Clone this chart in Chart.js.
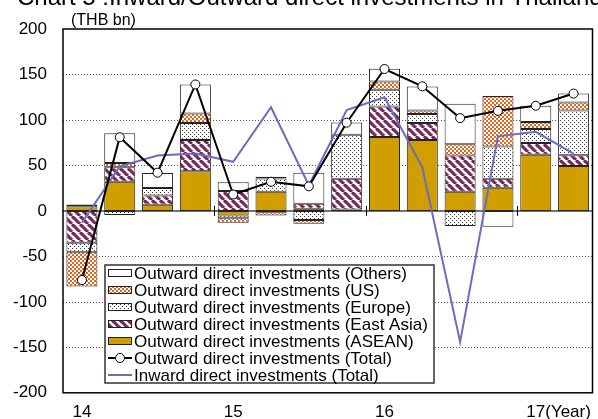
<!DOCTYPE html>
<html>
<head>
<meta charset="utf-8">
<script src="https://cdn.jsdelivr.net/npm/chart.js@4"></script>
<style>
  html, body { margin: 0; padding: 0; background: #fff; }
  #wrap { width: 598px; height: 419px; }
</style>
</head>
<body>
<div id="wrap"><canvas id="fdiChart" width="598" height="419"></canvas></div>
<script>
// quarters 2014Q1 .. 2017Q2, tick label only on Q1
const quarterLabels = ['14', '', '', '', '15', '', '', '', '16', '', '', '', '17', ''];
const yTicks = [-200, -150, -100, -50, 0, 50, 100, 150, 200];

// outward direct investment by destination (THB bn)
const aseanOut    = [5, 32, 6.8, 43.6, -5, 21, 2.4, 1.6, 81.3, 78, 21, 25.4, 61.6, 49.5];
const eastAsiaOut = [-35, 16, 10, 34.4, 22, -1.5, 5.5, 33.7, 33.5, 18.6, 39.8, 9.9, 13.1, 11.7];
const europeOut   = [-10, -4.5, 8.4, 18.7, -3, 14.5, -10, 48.5, 18.4, 9.9, -16.6, 35.4, 15.3, 49.3];
const usOut       = [-38, 4.8, 0, 10.5, -5, -3.5, -4, 0, 9.1, 4, 12.4, 55.5, 7.7, 8.7];
const othersOut   = [2, 32.5, 16.4, 31.8, 9.6, 2, 34, 13.5, 13.9, 26.3, 44.6, -17.3, 17.9, 9.8];
const totalOut    = [-76, 81, 42, 139, 18, 32, 27, 97, 156, 137, 102, 110, 115.6, 129];
const totalIn     = [-13, 49, 61, 63, 54, 114, 28, 111, 125, 48, -144, 82, 87, 63];

const FONT = '"Liberation Sans", Arial, sans-serif';

document.addEventListener("DOMContentLoaded", function () {
  const canvas = document.getElementById("fdiChart");
  const ctx = canvas.getContext("2d");

  // small tiles used as fill patterns
  function makePattern(w, h, draw) {
    const c = document.createElement("canvas");
    c.width = w; c.height = h;
    const g = c.getContext("2d");
    draw(g, w, h);
    return ctx.createPattern(c, "repeat");
  }

  const checkerOrange = makePattern(4, 4, function (g) {
    g.fillStyle = "#E3661E"; g.fillRect(0, 0, 4, 4);
    g.fillStyle = "#fff"; g.fillRect(0, 0, 2, 2); g.fillRect(2, 2, 2, 2);
  });
  const dotsGrey = makePattern(4, 4, function (g) {
    g.fillStyle = "#fff"; g.fillRect(0, 0, 4, 4);
    g.fillStyle = "#3a3a3a"; g.fillRect(0, 0, 1, 1); g.fillRect(2, 2, 1, 1);
  });
  const stripesPurple = makePattern(8, 8, function (g) {
    g.fillStyle = "#fff"; g.fillRect(0, 0, 8, 8);
    g.strokeStyle = "#772A5B"; g.lineWidth = 3.2;
    [-8, 0, 8].forEach(function (k) {
      g.beginPath(); g.moveTo(k, 0); g.lineTo(k + 8, 8); g.stroke();
    });
  });
  const gold = "#D19E00";

  function barSet(label, data, fill) {
    return {
      type: "bar", label: label, data: data, backgroundColor: fill,
      borderColor: "#222", borderWidth: 1, borderSkipped: false,
      stack: "out", order: 2,
      categoryPercentage: 1, barPercentage: 0.82
    };
  }

  const datasets = [
    {
      type: "line", label: "Outward direct investments (Total)", data: totalOut,
      borderColor: "#000", borderWidth: 2, tension: 0,
      pointRadius: 4.5, pointBackgroundColor: "#fff", pointBorderColor: "#000", pointBorderWidth: 1,
      stack: "lineOut", order: 0
    },
    {
      type: "line", label: "Inward direct investments (Total)", data: totalIn,
      borderColor: "#6B6BC2", borderWidth: 2, tension: 0, pointRadius: 0,
      stack: "lineIn", order: 1
    },
    barSet("Outward direct investments (ASEAN)", aseanOut, gold),
    barSet("Outward direct investments (East Asia)", eastAsiaOut, stripesPurple),
    barSet("Outward direct investments (Europe)", europeOut, dotsGrey),
    barSet("Outward direct investments (US)", usOut, checkerOrange),
    barSet("Outward direct investments (Others)", othersOut, "#fff")
  ];

  // legend rows, top to bottom as in the original
  const legendRows = [
    { text: "Outward direct investments (Others)", kind: "box", fill: "#fff" },
    { text: "Outward direct investments (US)", kind: "box", fill: checkerOrange },
    { text: "Outward direct investments (Europe)", kind: "box", fill: dotsGrey },
    { text: "Outward direct investments (East Asia)", kind: "box", fill: stripesPurple },
    { text: "Outward direct investments (ASEAN)", kind: "box", fill: gold },
    { text: "Outward direct investments (Total)", kind: "marker", color: "#000" },
    { text: "Inward direct investments (Total)", kind: "line", color: "#6B6BC2" }
  ];

  const decorations = {
    id: "decorations",
    beforeDatasetsDraw(chart) {
      const g = chart.ctx, a = chart.chartArea, y = chart.scales.y;
      g.save();
      // dotted grid
      g.strokeStyle = "#555"; g.lineWidth = 1; g.setLineDash([1, 2]);
      yTicks.forEach(function (v) {
        if (v === 0 || v === 200 || v === -200) return;
        const py = Math.round(y.getPixelForValue(v)) + 0.5;
        g.beginPath(); g.moveTo(a.left, py); g.lineTo(a.right, py); g.stroke();
      });
      g.setLineDash([]);
      // zero line
      const zy = y.getPixelForValue(0);
      g.strokeStyle = "#444"; g.lineWidth = 1.5;
      g.beginPath(); g.moveTo(a.left, zy); g.lineTo(a.right, zy); g.stroke();
      // year boundary ticks on the zero line
      const x = chart.scales.x;
      g.strokeStyle = "#000"; g.lineWidth = 1;
      [3, 7, 11].forEach(function (i) {
        const px = Math.round((x.getPixelForValue(i) + x.getPixelForValue(i + 1)) / 2) + 0.5;
        g.beginPath(); g.moveTo(px, zy - 5); g.lineTo(px, zy + 5); g.stroke();
      });
      g.restore();
    },
    afterDraw(chart) {
      const g = chart.ctx, a = chart.chartArea, x = chart.scales.x;
      g.save();
      // frame
      g.strokeStyle = "#000"; g.lineWidth = 1.5;
      g.strokeRect(a.left, a.top, a.right - a.left, a.bottom - a.top);

      // title (partly cut by top edge, as in the source)
      g.fillStyle = "#000";
      g.textBaseline = "alphabetic"; g.textAlign = "left";
      g.font = "24px " + FONT;
      g.fillText("Chart 5 :Inward/Outward direct investments in Thailand", 17, 5);
      g.font = "16px " + FONT;
      g.fillText("(THB bn)", 71, 25);

      // "(Year)" right after the 17 tick label, on the same baseline
      g.font = "17px " + FONT;
      const item = x.getLabelItems()[12];
      g.textBaseline = item.options.textBaseline || "top";
      const x17 = x.getPixelForValue(12) + g.measureText("17").width / 2;
      g.fillText("(Year)", x17, item.options.translation[1] + (item.textOffset || 0));

      // legend box
      const lx = 105, ly = 265, lw = 329, lh = 118;
      g.fillStyle = "#fff"; g.fillRect(lx, ly, lw, lh);
      g.strokeStyle = "#333"; g.lineWidth = 1.5; g.strokeRect(lx, ly, lw, lh);
      g.textBaseline = "alphabetic";
      g.font = "17px " + FONT;
      legendRows.forEach(function (r, i) {
        const base = 278.5 + i * 17;
        const mid = base - 5.5;
        if (r.kind === "box") {
          g.fillStyle = r.fill; g.fillRect(108, mid - 4, 24, 8);
          g.strokeStyle = "#222"; g.lineWidth = 1; g.strokeRect(108.5, mid - 3.5, 23, 7);
        } else {
          g.strokeStyle = r.color; g.lineWidth = 2;
          g.beginPath(); g.moveTo(108, mid); g.lineTo(132, mid); g.stroke();
          if (r.kind === "marker") {
            g.fillStyle = "#fff"; g.lineWidth = 1; g.strokeStyle = "#000";
            g.beginPath(); g.arc(120, mid, 4.5, 0, Math.PI * 2); g.fill(); g.stroke();
          }
        }
        g.fillStyle = "#000";
        g.fillText(r.text, 134, base);
      });
      g.restore();
    }
  };

  new Chart(ctx, {
    data: { labels: quarterLabels, datasets: datasets },
    options: {
      responsive: false,
      animation: false,
      layout: { padding: { top: 29, right: 3, left: 0, bottom: 0 } },
      plugins: { legend: { display: false }, tooltip: { enabled: false }, title: { display: false } },
      scales: {
        x: {
          stacked: true,
          grid: { display: false, drawTicks: false },
          border: { display: false },
          ticks: { autoSkip: false, maxRotation: 0, padding: 9, color: "#000", font: { size: 17, family: FONT } },
          afterFit: function (s) { s.height = 25; }
        },
        y: {
          stacked: true,
          min: -200, max: 200,
          grid: { display: false, drawTicks: false },
          border: { display: false },
          afterBuildTicks: function (s) { s.ticks = yTicks.map(function (v) { return { value: v }; }); },
          ticks: { padding: 16, color: "#000", font: { size: 17, family: FONT } },
          afterFit: function (s) { s.width = 63; }
        }
      }
    },
    plugins: [decorations]
  });
});
</script>
</body>
</html>
